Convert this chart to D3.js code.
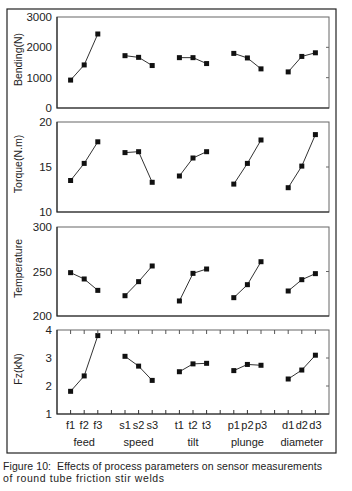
<!DOCTYPE html>
<html>
<head>
<meta charset="utf-8">
<script src="https://cdn.jsdelivr.net/npm/d3@7"></script>
<style>
  body { margin: 0; background: #fff; }
  svg text { font-family: "Liberation Sans", Arial, sans-serif; fill: #222; }
</style>
</head>
<body>
<svg id="chart" width="352" height="491"></svg>
<script>
// groups and their levels
const groups = ["feed", "speed", "tilt", "plunge", "diameter"];
const levels = [["f1","f2","f3"], ["s1","s2","s3"], ["t1","t2","t3"], ["p1","p2","p3"], ["d1","d2","d3"]];

// series values, one list per group
const bending = [[920, 1420, 2440], [1725, 1670, 1400], [1660, 1660, 1465], [1800, 1650, 1290], [1190, 1700, 1820]];
const torque = [[13.5, 15.4, 17.8], [16.6, 16.7, 13.3], [14.0, 16.0, 16.7], [13.1, 15.4, 18.0], [12.7, 15.1, 18.6]];
const temperature = [[248.7, 241.6, 228.8], [222.8, 238.6, 256.2], [216.9, 247.9, 252.8], [220.6, 235.2, 261], [228.1, 240.8, 247.6]];
const fz = [[1.81, 2.36, 3.80], [3.06, 2.71, 2.20], [2.51, 2.79, 2.81], [2.55, 2.77, 2.74], [2.25, 2.57, 3.10]];

const yTitles = ["Bending(N)", "Torque(N.m)", "Temperature", "Fz(kN)"];
const yDomains = [[0, 3000], [10, 20], [200, 300], [1, 4]];
const yTicks = [[0, 1000, 2000, 3000], [10, 15, 20], [200, 250, 300], [1, 2, 3, 4]];
const caption = ["Figure 10:  Effects of process parameters on sensor measurements", "of round tube friction stir welds"];

const svg = d3.select("#chart");
const left = 57, right = 329;
const panelBox = [[17, 108], [122, 212], [227, 316], [330, 414]];
const seriesList = [bending, torque, temperature, fz];

// slot index: each group takes 3 slots plus one gap
const pos = (g, j) => g * 4 + j + 1;
const x = d3.scaleLinear().domain([0, 20]).range([left, right]);

// outer frame
svg.append("rect").attr("x", 7).attr("y", 9).attr("width", 329).attr("height", 444)
  .attr("fill", "none").attr("stroke", "#222").attr("stroke-width", 1.2);

seriesList.forEach((series, p) => {
  const [top, bottom] = panelBox[p];
  const y = d3.scaleLinear().domain(yDomains[p]).range([bottom, top]);
  const g = svg.append("g");

  g.append("rect").attr("x", left).attr("y", top).attr("width", right - left).attr("height", bottom - top)
    .attr("fill", "none").attr("stroke", "#666").attr("stroke-width", 1);
  g.append("path").attr("d", `M${left},${top}V${bottom}H${right}`)
    .attr("fill", "none").attr("stroke", "#222").attr("stroke-width", 1.1);

  // y tick labels
  g.selectAll(".ylab").data(yTicks[p]).join("text").attr("class", "ylab")
    .attr("x", left - 5).attr("y", d => y(d)).attr("dy", "0.35em")
    .attr("text-anchor", "end").attr("font-size", 11.5).text(d => d);

  // inner ticks on the right edge
  const inner = yTicks[p].slice(1, -1);
  g.selectAll(".rtick").data(inner).join("line").attr("class", "rtick")
    .attr("x1", right - 3).attr("x2", right).attr("y1", d => y(d)).attr("y2", d => y(d))
    .attr("stroke", "#666");

  // y title
  g.append("text")
    .attr("transform", `translate(22, ${(top + bottom) / 2 - 3}) rotate(-90)`)
    .attr("text-anchor", "middle").attr("font-size", 10.5).text(yTitles[p]);

  const line = d3.line().x((d, j) => x(d.pos)).y(d => y(d.v));
  series.forEach((vals, gi) => {
    const pts = vals.map((v, j) => ({ pos: pos(gi, j), v }));
    g.append("path").datum(pts).attr("d", line)
      .attr("fill", "none").attr("stroke", "#333").attr("stroke-width", 1);
    g.selectAll(null).data(pts).join("rect")
      .attr("x", d => x(d.pos) - 2.5).attr("y", d => y(d.v) - 2.5)
      .attr("width", 5).attr("height", 5).attr("fill", "#111");
  });
});

// bottom panel category ticks (top and bottom, inward)
const [ft, fb] = panelBox[3];
const slots = d3.range(1, 20);
svg.selectAll(".xtb").data(slots).join("line").attr("class", "xtb")
  .attr("x1", d => x(d)).attr("x2", d => x(d)).attr("y1", fb - 4).attr("y2", fb)
  .attr("stroke", "#333");
svg.selectAll(".xtt").data(slots).join("line").attr("class", "xtt")
  .attr("x1", d => x(d)).attr("x2", d => x(d)).attr("y1", ft).attr("y2", ft + 4)
  .attr("stroke", "#555");

// category labels and group names
levels.forEach((lv, gi) => {
  svg.selectAll(null).data(lv).join("text")
    .attr("x", (d, j) => x(pos(gi, j))).attr("y", fb + 15)
    .attr("text-anchor", "middle").attr("font-size", 11).text(d => d);
  svg.append("text").attr("x", x(pos(gi, 1))).attr("y", fb + 32)
    .attr("text-anchor", "middle").attr("font-size", 11).text(groups[gi]);
});

// caption (stretched to the width it takes in the original)
const capWidths = [319, 161];
svg.selectAll(".cap").data(caption).join("text").attr("class", "cap")
  .attr("x", 3).attr("y", (d, i) => 470 + i * 11.5)
  .attr("font-size", 10.5).attr("textLength", (d, i) => capWidths[i]).attr("lengthAdjust", "spacing")
  .style("white-space", "pre").text(d => d);
</script>
</body>
</html>
